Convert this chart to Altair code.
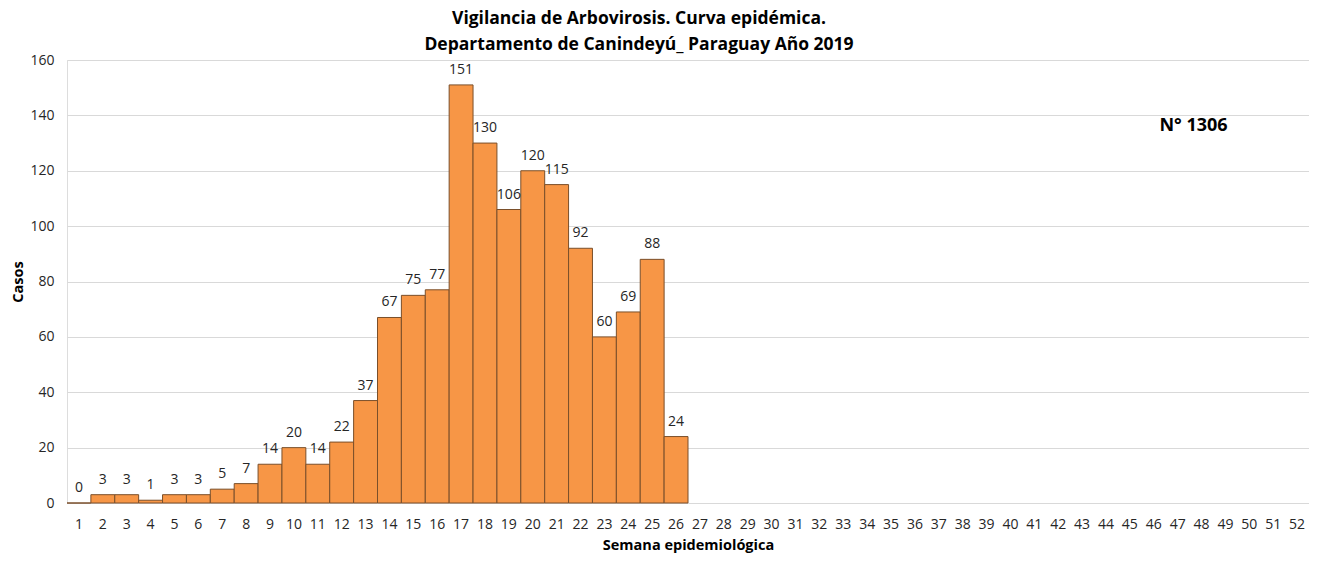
import altair as alt
import pandas as pd

weeks = [str(i) for i in range(1, 53)]
data_weeks = [str(i) for i in range(1, 27)]
cases = [0, 3, 3, 1, 3, 3, 5, 7, 14, 20, 14, 22, 37, 67, 75, 77, 151, 130, 106, 120, 115, 92, 60, 69, 88, 24]
title_lines = ["Vigilancia de Arbovirosis. Curva epidémica.", "Departamento de Canindeyú_ Paraguay Año 2019"]
note_text = ["N° 1306"]
note_week = ["48"]
note_value = [136]

FONT = "Open Sans"

df = pd.DataFrame({"week": data_weeks, "cases": cases})
note_df = pd.DataFrame({"week": note_week, "v": note_value, "t": note_text})

x = alt.X("week:O", sort=weeks,
          scale=alt.Scale(domain=weeks, paddingInner=0, paddingOuter=0),
          axis=alt.Axis(title="Semana epidemiológica", labelAngle=0, ticks=False, domain=False,
                        labelPadding=14, labelFontSize=14, labelColor="#262626", labelFont=FONT,
                        titleFont=FONT, titleFontSize=14.5, titleFontWeight="bold", titleColor="#000000",
                        titlePadding=7))
y = alt.Y("cases:Q",
          scale=alt.Scale(domain=[0, 160], nice=False),
          axis=alt.Axis(title="Casos", values=list(range(0, 161, 20)), ticks=False, domain=False,
                        labelPadding=13, labelFontSize=14, labelColor="#262626", labelFont=FONT,
                        gridColor="#d9d9d9", gridWidth=1,
                        titleFont=FONT, titleFontSize=14.5, titleFontWeight="bold", titleColor="#000000",
                        titlePadding=4))

bars = alt.Chart(df).mark_bar(color="#F79646", stroke="#7a4f2a", strokeWidth=1).encode(x=x, y=y)
labels = alt.Chart(df).mark_text(baseline="bottom", dy=-8, fontSize=14, font=FONT, color="#262626").encode(
    x=alt.X("week:O", sort=weeks), y="cases:Q", text="cases:Q")
note = alt.Chart(note_df).mark_text(fontSize=18, fontWeight="bold", font=FONT, color="#000000", dx=-8).encode(
    x=alt.X("week:O", sort=weeks), y=alt.Y("v:Q"), text="t:N")

chart = alt.layer(bars, labels, note).properties(
    width=1242, height=443,
    title=alt.TitleParams(title_lines, font=FONT, fontSize=17.5, fontWeight="bold", color="#000000",
                          anchor="middle", dx=-49, offset=0, lineHeight=26),
    autosize=alt.AutoSizeParams(type="none"),
    padding={"left": 59, "top": 52, "right": 0, "bottom": 51},
).configure_view(stroke=None).configure(background="white")

chart.save("out.html", embed_options={"renderer": "svg", "actions": False})
